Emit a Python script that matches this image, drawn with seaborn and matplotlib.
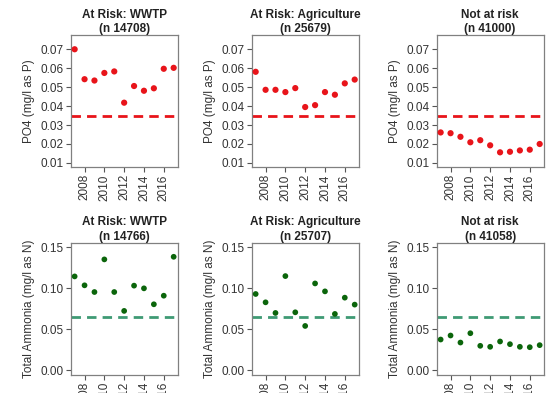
import matplotlib
matplotlib.use("Agg")
import matplotlib.pyplot as plt
import pandas as pd
import seaborn as sns

# Anos de amostragem
YEARS = [2007, 2008, 2009, 2010, 2011, 2012, 2013, 2014, 2015, 2016, 2017]

# PO4 (mg/l as P) por grupo
PO4_WWTP = [0.0700, 0.0542, 0.0535, 0.0575, 0.0583, 0.0418, 0.0506, 0.0481, 0.0494, 0.0597, 0.0602]
PO4_AGRI = [0.0581, 0.0486, 0.0486, 0.0474, 0.0495, 0.0395, 0.0405, 0.0474, 0.0460, 0.0520, 0.0540]
PO4_NOT = [0.0261, 0.0257, 0.0238, 0.0209, 0.0220, 0.0193, 0.0156, 0.0159, 0.0166, 0.0170, 0.0200]

# Amônia total (mg/l as N) por grupo
NH3_WWTP = [0.1146, 0.1037, 0.0955, 0.1354, 0.0955, 0.0724, 0.1033, 0.1000, 0.0805, 0.0910, 0.1386]
NH3_AGRI = [0.0931, 0.0829, 0.0699, 0.1150, 0.0707, 0.0540, 0.1060, 0.0963, 0.0687, 0.0886, 0.0801]
NH3_NOT = [0.0374, 0.0423, 0.0337, 0.0451, 0.0297, 0.0285, 0.0350, 0.0317, 0.0285, 0.0280, 0.0305]

GROUPS = ["At Risk: WWTP", "At Risk: Agriculture", "Not at risk"]
N_PO4 = [14708, 25679, 41000]
N_NH3 = [14766, 25707, 41058]

PO4_THRESHOLD = 0.035
NH3_THRESHOLD = 0.065

PO4_TICKS = [0.01, 0.02, 0.03, 0.04, 0.05, 0.06, 0.07]
NH3_TICKS = [0.00, 0.05, 0.10, 0.15]
YEAR_TICKS = [2008, 2010, 2012, 2014, 2016]

RED = "#e8141a"
DARK_GREEN = "#0b650b"
LINE_GREEN = "#3f9a74"
TEXT_COLOR = "#333333"
FRAME_COLOR = "#808080"
FONT_SIZE = 8.5

sns.set_style("ticks")
plt.rcParams["font.family"] = ["Liberation Sans", "DejaVu Sans"]
plt.rcParams["font.size"] = FONT_SIZE

fig = plt.figure(figsize=(5.57, 3.93), dpi=100)

col_lefts = [0.1269, 0.4519, 0.7840]
row_bottoms = [0.5743, 0.0458]
ax_w = 0.192
ax_h = 0.337

rows = [
    {"series": [PO4_WWTP, PO4_AGRI, PO4_NOT], "n": N_PO4, "thr": PO4_THRESHOLD,
     "ticks": PO4_TICKS, "ylim": (0.0077, 0.0776), "ylabel": "PO4 (mg/l as P)",
     "dot": RED, "line": RED, "size": 20},
    {"series": [NH3_WWTP, NH3_AGRI, NH3_NOT], "n": N_NH3, "thr": NH3_THRESHOLD,
     "ticks": NH3_TICKS, "ylim": (-0.006, 0.156), "ylabel": "Total Ammonia (mg/l as N)",
     "dot": DARK_GREEN, "line": LINE_GREEN, "size": 17},
]

for r, row in enumerate(rows):
    for c, values in enumerate(row["series"]):
        ax = fig.add_axes([col_lefts[c], row_bottoms[r], ax_w, ax_h])
        df = pd.DataFrame({"year": YEARS, "value": values})

        sns.scatterplot(data=df, x="year", y="value", ax=ax, color=row["dot"],
                        s=row["size"], edgecolor="none", linewidth=0, zorder=3)
        # Linha de referência (limiar)
        ax.axhline(row["thr"], color=row["line"], linewidth=2.0,
                   linestyle=(0, (3.4, 2.2)), zorder=2)

        ax.set_xlim(2006.6, 2017.4)
        ax.set_ylim(*row["ylim"])
        ax.set_xticks(YEAR_TICKS)
        ax.set_xticklabels([str(y) for y in YEAR_TICKS], rotation=90)
        ax.set_yticks(row["ticks"])
        ax.set_yticklabels([f"{t:.2f}" for t in row["ticks"]])

        ax.tick_params(axis="both", length=3.5, width=0.8, pad=1.5,
                       color="#555555", labelcolor=TEXT_COLOR, labelsize=FONT_SIZE)
        for spine in ax.spines.values():
            spine.set_visible(True)
            spine.set_color(FRAME_COLOR)
            spine.set_linewidth(0.9)

        ax.set_xlabel("")
        ax.set_ylabel(row["ylabel"], color=TEXT_COLOR, fontsize=FONT_SIZE)
        ax.yaxis.set_label_coords(-0.33, 0.5)

        ax.set_title(f"{GROUPS[c]}\n(n {row['n'][c]})", fontsize=FONT_SIZE,
                     fontweight="bold", color="#222222", pad=1, linespacing=1.25)

fig.savefig("out.png", dpi=100)
plt.close(fig)
